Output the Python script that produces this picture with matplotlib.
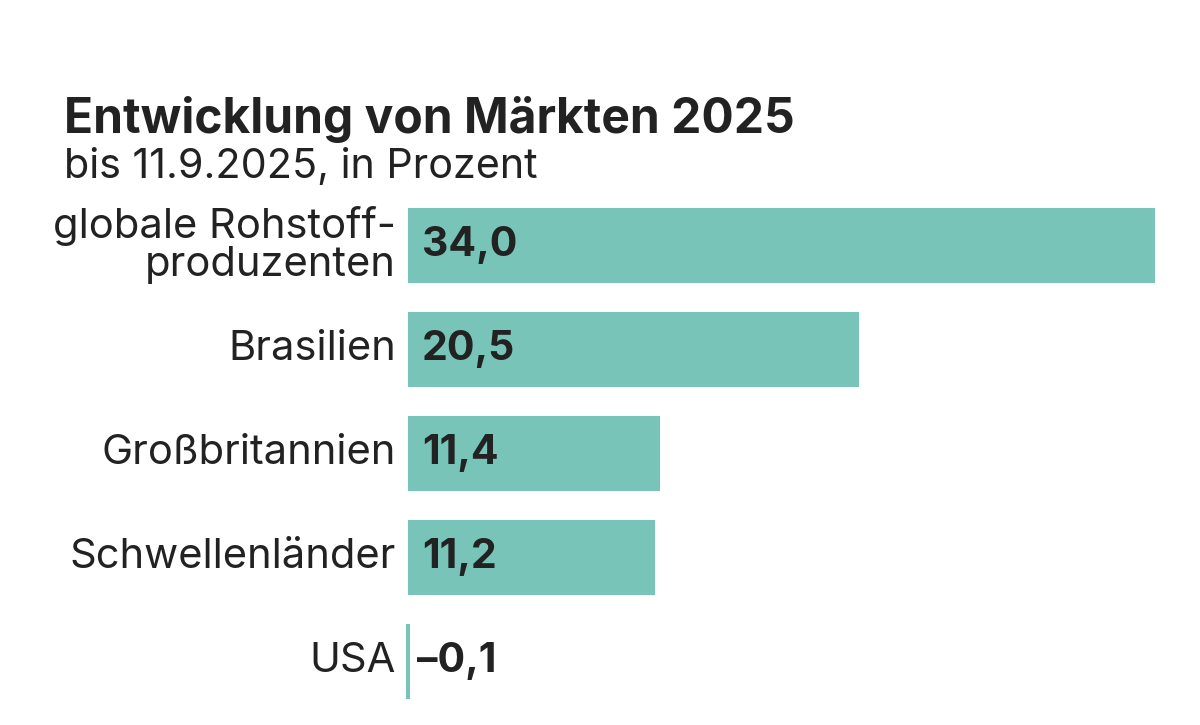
import matplotlib
matplotlib.use("Agg")
import matplotlib.pyplot as plt

categories = ["globale Rohstoff-\nproduzenten", "Brasilien", "Großbritannien", "Schwellenländer", "USA"]
values = [34.0, 20.5, 11.4, 11.2, -0.1]
value_labels = ["34,0", "20,5", "11,4", "11,2", "–0,1"]

title = "Entwicklung von Märkten 2025"
subtitle = "bis 11.9.2025, in Prozent"

BAR = "#78c4b9"
TXT = "#222222"

plt.rcParams['font.family'] = ['Inter', 'DejaVu Sans']

W, H = 1200, 725
fig = plt.figure(figsize=(12, 7.25), dpi=100)
fig.patch.set_facecolor("white")

x0, x1 = 409, 1154
top_px, bot_px = 193.5, 713.5
ax = fig.add_axes([x0 / W, 1 - bot_px / H, (x1 - x0) / W, (bot_px - top_px) / H])
ax.set_xlim(0, 34)
ax.set_ylim(len(categories) - 0.5, -0.5)
ax.axis("off")

ypos = list(range(len(categories)))
ax.barh(ypos, values, height=0.70, color=BAR, edgecolor=BAR, linewidth=1.5, clip_on=False)

for i, (cat, v, lab) in enumerate(zip(categories, values, value_labels)):
    ax.annotate(cat, xy=(0, i), xytext=(-13, 0), textcoords="offset pixels",
                ha="right", va="center", fontsize=30, color=TXT,
                linespacing=1.0, annotation_clip=False)
    off = 13 if v > 0 else 8
    ax.annotate(lab, xy=(0, i), xytext=(off, 0),
                textcoords="offset pixels", ha="left", va="center",
                fontsize=29.5, fontweight="bold", color=TXT, annotation_clip=False)

fig.text(64 / W, 1 - 133 / H, title, fontsize=34.5, fontweight="bold", color=TXT,
         ha="left", va="baseline")
fig.text(64 / W, 1 - 178 / H, subtitle, fontsize=29.7, color=TXT,
         ha="left", va="baseline")

fig.savefig("out.png", dpi=100, facecolor="white")
